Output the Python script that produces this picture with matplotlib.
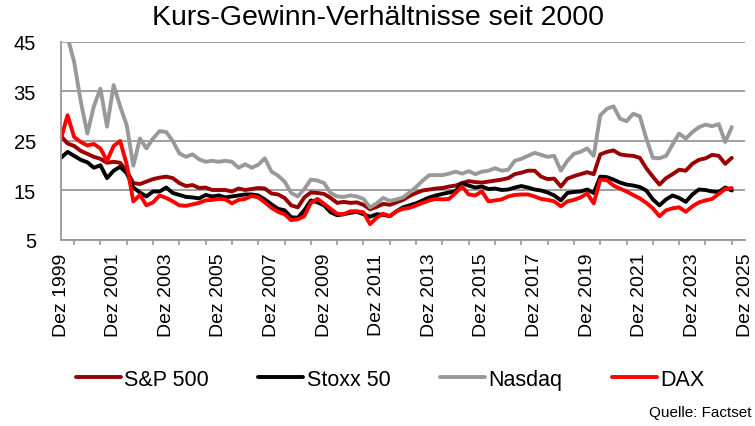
import matplotlib
matplotlib.use("Agg")
import matplotlib.pyplot as plt
import pandas as pd

plt.rcParams["font.family"] = ["Liberation Sans", "DejaVu Sans"]

# quarter-end dates, Dez 1999 .. Jun 2025
dates = pd.date_range("1999-12-31", periods=103, freq="QE-DEC")

sp500 = [26, 24.5, 24, 23, 22.4, 21.8, 21.4, 20.6, 20.8, 20.6,
         19, 16.5, 16.3, 16.8, 17.3, 17.6, 17.8, 17.5, 16.5, 15.9,
         16.1, 15.5, 15.6, 15.1, 15.1, 15.1, 14.8, 15.4, 15.1, 15.3,
         15.5, 15.4, 14.4, 14.2, 13.5, 12, 11.6, 13.6, 14.6, 14.5,
         14.3, 13.5, 12.5, 12.7, 12.5, 12.6, 12.1, 11.2, 11.7, 12.3,
         12.1, 12.6, 13.1, 13.9, 14.5, 15, 15.2, 15.4, 15.5, 15.8,
         16, 16.5, 16.9, 16.7, 16.6, 16.8, 17, 17.2, 17.5, 18.3,
         18.6, 19, 19, 17.8, 17.3, 17.4, 15.8, 17.4, 17.9, 18.3,
         18.7, 18.3, 22.3, 22.8, 23.1, 22.3, 22.1, 22, 21.6, 19.5,
         17.8, 16.2, 17.5, 18.3, 19.2, 19, 20.4, 21.2, 21.5, 22.2,
         22, 20.4, 21.6]

stoxx50 = [21.6, 22.8, 22, 21.2, 20.7, 19.6, 20.1, 17.5, 19, 19.8,
           18.5, 15.6, 14.6, 13.8, 14.8, 14.8, 15.6, 14.5, 14.1, 13.7,
           13.6, 13.4, 14.1, 13.8, 14, 13.6, 13.8, 14, 14.2, 14.2,
           14, 13.2, 12.2, 11.3, 11, 9.6, 9.5, 11, 13, 12.6,
           12, 10.6, 10, 10.2, 10.5, 10.7, 10.2, 9.7, 10.2, 10.1,
           9.8, 10.8, 11.6, 12, 12.4, 13, 13.6, 14, 14.3, 14.6,
           14.9, 16.5, 16, 15.6, 15.8, 15.3, 15.4, 15.1, 15.2, 15.6,
           15.9, 15.6, 15.2, 15, 14.6, 14, 13, 14.5, 14.7, 14.8,
           15.2, 14.5, 17.8, 17.7, 17.2, 16.6, 16.2, 16, 15.7, 15,
           13.2, 12, 13.2, 14, 13.5, 12.7, 14.2, 15.2, 15.1, 14.8,
           14.7, 15.6, 15]

nasdaq = [52, 46, 41, 33, 26.5, 32, 35.6, 27.9, 36.3, 32,
          28.2, 20, 25.5, 23.5, 25.5, 27, 26.8, 25, 22.5, 21.8,
          22.3, 21.3, 20.8, 21, 20.8, 21, 20.8, 19.6, 20.3, 19.6,
          20.2, 21.5, 18.8, 18, 16.8, 14.5, 13.8, 15.3, 17.2, 17,
          16.5, 14.5, 13.8, 13.7, 14, 13.8, 13.3, 11.6, 12.4, 13.5,
          12.9, 13.2, 13.6, 14.6, 15.7, 17, 18.1, 18.1, 18.1, 18.4,
          18.8, 18.4, 18.9, 18.3, 18.8, 19, 19.5, 19, 19.2, 21,
          21.4, 22, 22.6, 22.2, 21.8, 22, 19, 21, 22.4, 22.8,
          23.5, 22, 30.2, 31.5, 32, 29.5, 29, 30.5, 30, 25.5,
          21.6, 21.5, 22, 24.3, 26.5, 25.5, 26.8, 27.8, 28.3, 28,
          28.4, 24.8, 27.8]

dax = [25.5, 30.2, 25.8, 24.8, 24.1, 24.4, 23.5, 21, 24, 25,
       20.3, 12.8, 14.1, 12, 12.6, 14, 13.5, 12.8, 12, 11.9,
       12.2, 12.5, 13, 13.1, 13.3, 13.2, 12.4, 13.1, 13.3, 13.9,
       13.6, 12.6, 11.5, 10.7, 10.2, 9, 9.2, 9.8, 12.5, 13.3,
       12.3, 11.3, 10.3, 10.2, 10.8, 10.8, 10.6, 8.2, 9.5, 10.3,
       9.8, 10.8, 11.3, 11.5, 12, 12.5, 13, 13.3, 13.2, 13.3,
       14.5, 15.8, 14.2, 14, 14.8, 12.8, 13, 13.2, 13.8, 14.1,
       14.2, 14.2, 13.8, 13.3, 13.1, 12.8, 11.8, 12.8, 13.1, 13.6,
       14.4, 12.4, 17.2, 17.1, 16, 15.4, 14.8, 14.1, 13.4, 12.5,
       11.4, 9.8, 11, 11.4, 11.6, 10.7, 11.8, 12.6, 13, 13.3,
       14.3, 15.3, 15.5]

series = [("S&P 500", sp500, "#990000"),
          ("Stoxx 50", stoxx50, "#000000"),
          ("Nasdaq", nasdaq, "#999999"),
          ("DAX", dax, "#ff0000")]

label_years = list(range(1999, 2026, 2))
yticks = [5, 15, 25, 35, 45]

fig = plt.figure(figsize=(7.55, 4.27), dpi=100)
ax = fig.add_axes([0.0808, 0.4356, 0.906, 0.4637])

lines = []
for name, vals, col in series:
    ln, = ax.plot(dates, vals, color=col, lw=2.8, label=name,
                  solid_joinstyle="round", solid_capstyle="round")
    lines.append(ln)

ax.set_ylim(5, 45)
ax.set_yticks(yticks)
ax.set_xlim(pd.Timestamp("1999-12-31"), pd.Timestamp("2025-12-31"))
ax.set_xticks([pd.Timestamp(f"{y}-12-31") for y in label_years])
ax.set_xticklabels([f"Dez {y}" for y in label_years], rotation=90)
ax.set_xticks([pd.Timestamp(f"{y}-06-30") for y in range(2000, 2026)], minor=True)

ax.grid(True, axis="y", color="#999999", lw=1.3)
ax.set_axisbelow(True)
for s in ("top", "right"):
    ax.spines[s].set_visible(False)
for s in ("left", "bottom"):
    ax.spines[s].set_color("#999999")
    ax.spines[s].set_linewidth(1.3)

ax.tick_params(axis="y", length=0, pad=18, labelsize=14.5)
ax.tick_params(axis="x", which="major", length=0, pad=9, labelsize=14)
ax.tick_params(axis="x", which="minor", length=3.5, width=1.2, color="#999999")

fig.text(0.5, 0.957, "Kurs-Gewinn-Verhältnisse seit 2000", ha="center",
         va="center", fontsize=20.5)

fig.legend(handles=lines, loc="center", bbox_to_anchor=(0.5166, 0.11),
           ncol=4, frameon=False, fontsize=15.5, handlelength=2.1,
           handletextpad=0.15, columnspacing=2.3)

fig.text(0.996, 0.033, "Quelle: Factset", ha="right", va="center", fontsize=11)

fig.savefig("out.png", dpi=100)
